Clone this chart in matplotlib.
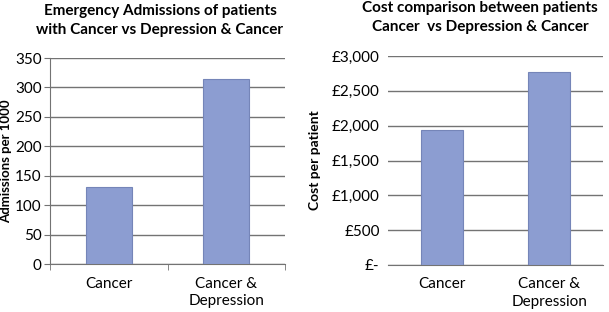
import numpy as np
import matplotlib.pyplot as plt
from matplotlib.ticker import FuncFormatter

# data
categories = ["Cancer", "Cancer &\nDepression"]
admissions = [131, 315]
costs = [1940, 2770]
adm_ticks = [0, 50, 100, 150, 200, 250, 300, 350]
cost_ticks = [0, 500, 1000, 1500, 2000, 2500, 3000]

plt.rcParams['font.family'] = ['Lato', 'DejaVu Sans']
bar_face = '#8c9dd1'
bar_edge = '#7585b8'
grid_col = '#737373'

fig = plt.figure(figsize=(6.09, 3.12), dpi=100)

# left panel: admissions
ax1 = fig.add_axes([50/609, 1-264/312, 235/609, 206/312])
x = np.arange(len(categories))
ax1.bar(x, admissions, width=0.39, color=bar_face, edgecolor=bar_edge, linewidth=0.8, zorder=3)
ax1.set_xlim(-0.5, 1.5)
ax1.set_ylim(0, 350)
ax1.set_yticks(adm_ticks)
ax1.yaxis.grid(True, color=grid_col, linewidth=1, zorder=0)
ax1.set_xticks(x)
ax1.set_xticklabels(categories, fontsize=11, linespacing=1.35)
ax1.set_xticks([-0.5, 0.5, 1.5], minor=True)
ax1.tick_params(axis='x', which='major', length=0, pad=9)
ax1.tick_params(axis='x', which='minor', length=4, color=grid_col, direction='out')
ax1.tick_params(axis='y', length=4, color=grid_col, labelsize=11, pad=2)
for s in ['top', 'right']:
    ax1.spines[s].set_visible(False)
for s in ['left', 'bottom']:
    ax1.spines[s].set_color(grid_col)
ax1.set_ylabel("Admissions per 1000", fontsize=9.5, fontweight='bold', labelpad=2)
fig.text(160/609, 1-11/312, "Emergency Admissions of patients", ha='center', va='center',
         fontsize=11, fontweight='bold')
fig.text(160/609, 1-30/312, "with Cancer vs Depression & Cancer", ha='center', va='center',
         fontsize=11, fontweight='bold')

# right panel: cost per patient
ax2 = fig.add_axes([388/609, 1-265/312, 215/609, 209/312])
ax2.bar(x, costs, width=0.39, color=bar_face, edgecolor=bar_edge, linewidth=0.8, zorder=3)
ax2.set_xlim(-0.5, 1.5)
ax2.set_ylim(0, 3000)
ax2.set_yticks(cost_ticks)
ax2.yaxis.set_major_formatter(FuncFormatter(lambda v, p: "£-" if v == 0 else "£{:,.0f}".format(v)))
ax2.yaxis.grid(True, color=grid_col, linewidth=1, zorder=0)
ax2.set_xticks(x)
ax2.set_xticklabels(categories, fontsize=11, linespacing=1.35)
ax2.tick_params(axis='x', length=0, pad=9)
ax2.tick_params(axis='y', length=0, labelsize=11, pad=6)
for s in ['top', 'right', 'left']:
    ax2.spines[s].set_visible(False)
ax2.spines['bottom'].set_color(grid_col)
ax2.set_ylabel("Cost per patient", fontsize=10, fontweight='bold', labelpad=8)
fig.text(480/609, 1-8/312, "Cost comparison between patients", ha='center', va='center',
         fontsize=11, fontweight='bold')
fig.text(480/609, 1-27/312, "Cancer  vs Depression & Cancer", ha='center', va='center',
         fontsize=11, fontweight='bold')

fig.savefig("out.png", dpi=100)
